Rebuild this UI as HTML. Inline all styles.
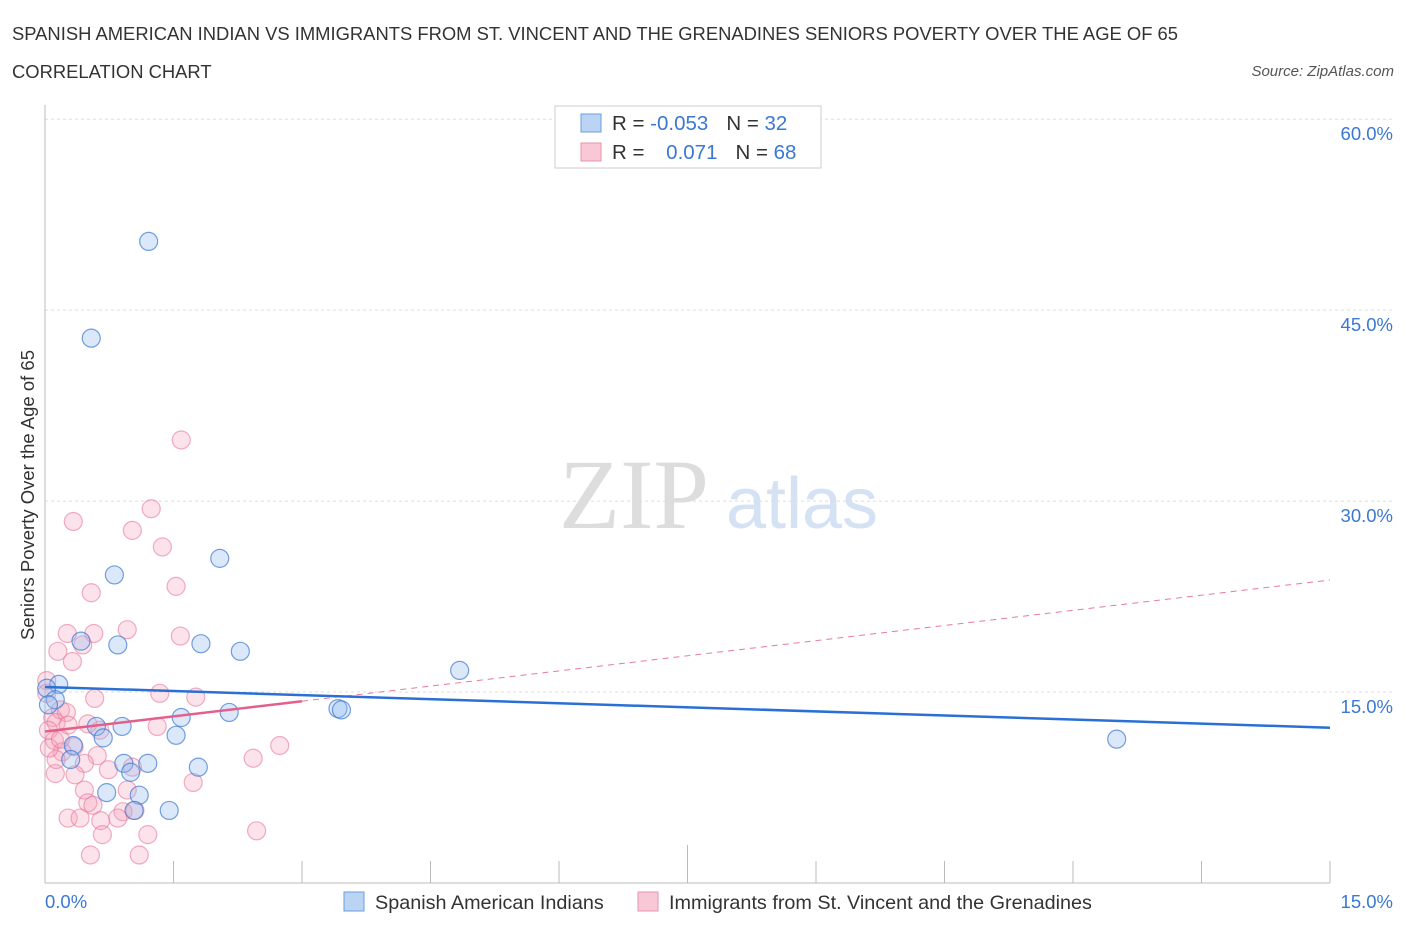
<!DOCTYPE html>
<html><head><meta charset="utf-8"><style>
body{margin:0;background:#fff;font-family:"Liberation Sans",sans-serif}
</style></head><body>
<svg id="c" width="1406" height="930" xmlns="http://www.w3.org/2000/svg" font-family="Liberation Sans, sans-serif">
<text x="12" y="40" font-size="18.4" fill="#333">SPANISH AMERICAN INDIAN VS IMMIGRANTS FROM ST. VINCENT AND THE GRENADINES SENIORS POVERTY OVER THE AGE OF 65</text>
<text x="12" y="78" font-size="18.4" fill="#333">CORRELATION CHART</text>
<text x="1394" y="76" font-size="15" fill="#555" font-style="italic" text-anchor="end">Source: ZipAtlas.com</text>
<text x="634" y="528" font-size="100" fill="#ddd" style="font-family:'Liberation Serif',serif" text-anchor="middle">ZIP</text>
<text x="802" y="528" font-size="72" fill="#d4e2f4" text-anchor="middle">atlas</text>
<text transform="translate(34,495) rotate(-90)" font-size="18.5" fill="#333" text-anchor="middle">Seniors Poverty Over the Age of 65</text>
<g id="grid"></g><g id="marks"></g>
<g>
<rect x="555" y="106" width="266" height="62" fill="#fff" stroke="#ccc"/>
<rect x="581" y="114" width="20" height="18" fill="#bcd4f3" stroke="#6a9ee0"/>
<rect x="581" y="143" width="20" height="18" fill="#f8c8d6" stroke="#ea93ad"/>
<text x="612" y="130" font-size="20.5" fill="#333">R = <tspan fill="#3a78d4">-0.053</tspan><tspan dx="18" fill="#333">N = </tspan><tspan fill="#3a78d4">32</tspan></text>
<text x="612" y="159" font-size="20.5" fill="#333">R = <tspan dx="16" fill="#3a78d4">0.071</tspan><tspan dx="18" fill="#333">N = </tspan><tspan fill="#3a78d4">68</tspan></text>
</g>
<g>
<rect x="344" y="892" width="20" height="19" fill="#bcd4f3" stroke="#6a9ee0"/>
<text x="375" y="909" font-size="19.8" fill="#333">Spanish American Indians</text>
<rect x="638" y="892" width="20" height="19" fill="#f8c8d6" stroke="#ea93ad"/>
<text x="669" y="909" font-size="19.8" fill="#333">Immigrants from St. Vincent and the Grenadines</text>
</g>
</svg>
<script>
const yTicks=[15,30,45,60];
const yTickLabels=["15.0%","30.0%","45.0%","60.0%"];
const xTickCount=10;
const blueX=[1.21,0.54,0.81,2.04,0.42,0.85,1.82,2.28,4.84,0.16,0.02,0.12,3.42,3.46,1.59,2.15,0.60,0.90,1.53,0.68,0.33,0.92,1.20,1.00,1.79,0.30,0.72,1.10,1.04,1.45,12.51,0.04];
const blueY=[50.4,42.8,24.2,25.5,19.0,18.7,18.8,18.2,16.7,15.6,15.3,14.4,13.7,13.6,13.0,13.4,12.3,12.3,11.6,11.4,10.8,9.4,9.4,8.7,9.1,9.7,7.1,6.9,5.7,5.7,11.3,14.0];
const pinkX=[1.59,1.24,0.33,1.02,1.37,1.53,0.54,0.26,0.57,0.96,1.58,0.44,0.15,0.32,1.34,1.76,0.58,0.02,0.02,0.09,0.18,0.25,0.13,0.27,0.04,0.11,0.64,0.50,1.31,0.34,0.20,0.61,0.46,0.74,0.12,0.35,1.02,2.43,2.74,1.73,0.46,0.96,0.50,0.56,1.05,0.91,0.27,0.41,0.65,0.85,0.67,1.20,2.47,0.53,1.10,0.13,0.05,0.18];
const pinkY=[34.8,29.4,28.4,27.7,26.4,23.3,22.8,19.6,19.6,19.9,19.4,18.7,18.2,17.4,14.9,14.6,14.5,15.9,14.9,13.0,13.6,13.4,12.6,12.4,12.0,11.2,12.0,12.5,12.3,10.7,10.3,10.0,9.4,8.9,8.6,8.5,9.1,9.8,10.8,7.9,7.3,7.3,6.3,6.1,5.7,5.6,5.1,5.1,4.9,5.1,3.8,3.8,4.1,2.2,2.2,9.7,10.6,11.3];
const blueTrend=[15.4,12.2];
const pinkTrend=[11.9,23.8];
const pinkSolidEnd=3;
const NS="http://www.w3.org/2000/svg";
const X=v=>45+v/15*1285, Y=v=>883-v*12.73;
function mk(t,a,p){const e=document.createElementNS(NS,t);for(const k in a)e.setAttribute(k,a[k]);p.appendChild(e);return e;}
const g=document.getElementById('grid'),m=document.getElementById('marks');
yTicks.forEach((t,i)=>{
 const l=mk('line',{x1:45,x2:1392,y1:Y(t),y2:Y(t),stroke:'#ddd','stroke-dasharray':'3,3'},g);
 
 
 const tx=mk('text',{x:1393,y:Y(t)+21,'font-size':18.5,fill:'#3a78d4','text-anchor':'end'},g);tx.textContent=yTickLabels[i];
 
 
});
const ax=mk('line',{x1:45,x2:1330,y1:883,y2:883,stroke:'#bbb'},g);


const ay=mk('line',{x1:45,x2:45,y1:105,y2:883,stroke:'#bbb'},g);


for(let i=0;i<=xTickCount;i++){const xv=15*i/xTickCount;const tk=mk('line',{x1:X(xv),x2:X(xv),y1:i==5?845:861,y2:883,stroke:'#bbb'},g);
 
 }
const x0=mk('text',{x:45,y:908,'font-size':18.5,fill:'#3a78d4'},g);x0.textContent='0.0%';


const x1=mk('text',{x:1393,y:908,'font-size':18.5,fill:'#3a78d4','text-anchor':'end'},g);x1.textContent='15.0%';


pinkX.forEach((v,i)=>{const c=mk('circle',{cx:X(v),cy:Y(pinkY[i]),r:9,fill:'rgba(244,160,185,0.3)',stroke:'rgba(232,120,155,0.6)','stroke-width':1.2},m);
 
 });
blueX.forEach((v,i)=>{const c=mk('circle',{cx:X(v),cy:Y(blueY[i]),r:9,fill:'rgba(150,190,240,0.35)',stroke:'rgba(60,120,210,0.7)','stroke-width':1.2},m);
 
 });
const ps=pinkTrend[0]+(pinkTrend[1]-pinkTrend[0])*pinkSolidEnd/15;
const pd=mk('line',{x1:X(pinkSolidEnd),y1:Y(ps),x2:X(15),y2:Y(pinkTrend[1]),stroke:'#e87a9c','stroke-width':1,'stroke-dasharray':'6,5'},m);


const pl=mk('line',{x1:X(0),y1:Y(pinkTrend[0]),x2:X(pinkSolidEnd),y2:Y(ps),stroke:'#e4608a','stroke-width':2.5},m);


const bl=mk('line',{x1:X(0),y1:Y(blueTrend[0]),x2:X(15),y2:Y(blueTrend[1]),stroke:'#2a6fd6','stroke-width':2.5},m);


</script>
</body></html>
